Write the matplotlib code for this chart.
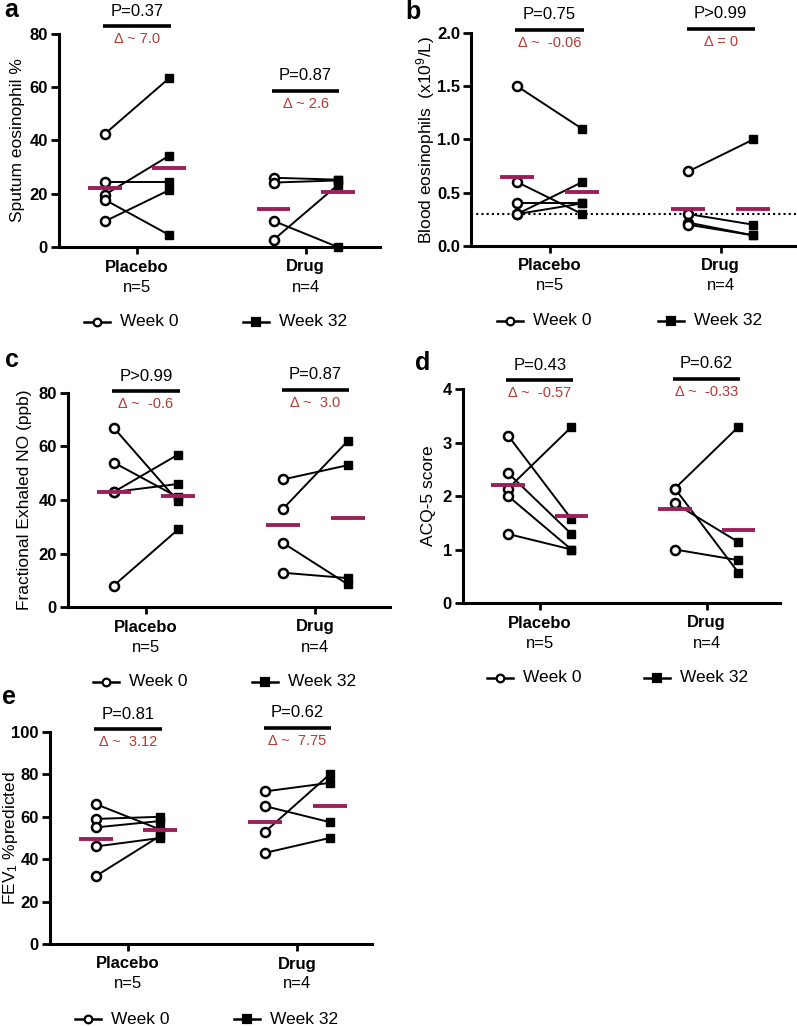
import matplotlib
matplotlib.use("Agg")
import matplotlib.pyplot as plt
from matplotlib.lines import Line2D

plt.rcParams["font.family"] = ["Liberation Sans", "DejaVu Sans"]
plt.rcParams["mathtext.default"] = "regular"

W, H = 797, 1026
RED = "#B23A33"     # texte des deltas
MEAN = "#9C1F5A"    # barres de moyenne

groups = ["Placebo", "Drug"]
group_n = ["n=5", "n=4"]

# ---- a : sputum eosinophil % ----
sput_plac_w0 = [42.4, 24.6, 19.6, 17.8, 9.6]
sput_plac_w32 = [63.3, 24.6, 34.2, 4.6, 21.3]
sput_drug_w0 = [26.0, 24.2, 9.8, 2.7]
sput_drug_w32 = [25.3, 25.0, 0.0, 23.3]
sput_means = [22.3, 29.8, 14.2, 20.6]

# ---- b : blood eosinophils ----
blood_plac_w0 = [1.5, 0.6, 0.4, 0.3, 0.3]
blood_plac_w32 = [1.1, 0.3, 0.4, 0.6, 0.4]
blood_drug_w0 = [0.7, 0.3, 0.22, 0.2]
blood_drug_w32 = [1.0, 0.2, 0.1, 0.1]
blood_means = [0.65, 0.51, 0.35, 0.35]
blood_cutoff = 0.3

# ---- c : FeNO ----
feno_plac_w0 = [67, 54, 43, 43, 8]
feno_plac_w32 = [39.5, 41, 57, 46, 29]
feno_drug_w0 = [47.7, 36.8, 23.9, 12.8]
feno_drug_w32 = [53, 62, 8.5, 10.8]
feno_means = [43, 41.5, 30.5, 33.4]

# ---- d : ACQ-5 ----
acq_plac_w0 = [3.13, 2.43, 2.14, 2.0, 1.29]
acq_plac_w32 = [1.57, 1.29, 3.29, 1.0, 1.0]
acq_drug_w0 = [2.14, 2.14, 1.86, 1.0]
acq_drug_w32 = [3.29, 0.57, 1.14, 0.8]
acq_means = [2.2, 1.63, 1.76, 1.37]

# ---- e : FEV1 %predicted ----
fev_plac_w0 = [66, 59, 55, 46, 32]
fev_plac_w32 = [54, 60, 58, 50, 51]
fev_drug_w0 = [72, 65, 53, 43]
fev_drug_w32 = [76, 57.5, 80, 50]
fev_means = [49.6, 54, 57.7, 65.2]

# stats affichées au-dessus de chaque groupe
p_labels = {
    "a": ["P=0.37", "P=0.87"], "b": ["P=0.75", "P>0.99"], "c": ["P>0.99", "P=0.87"],
    "d": ["P=0.43", "P=0.62"], "e": ["P=0.81", "P=0.62"],
}
d_labels = {
    "a": ["Δ ~ 7.0", "Δ ~ 2.6"], "b": ["Δ ~  -0.06", "Δ = 0"], "c": ["Δ ~  -0.6", "Δ ~  3.0"],
    "d": ["Δ ~  -0.57", "Δ ~  -0.33"], "e": ["Δ ~  3.12", "Δ ~  7.75"],
}
p_bar_y = {"a": [83, 58.7], "b": [2.03, 2.04], "c": [80.7, 81.3], "d": [4.16, 4.19], "e": [101.3, 101.9]}

fig = plt.figure(figsize=(W / 100, H / 100), dpi=100)
fig.patch.set_facecolor("white")

OFF = 0.19   # décalage semaine 0 / semaine 32 autour du centre du groupe


def panel(key, box, ylim, yticks, fmt, ylabel, ylab_xy, letter_xy, data, means):
    l, r, t, b = box
    ax = fig.add_axes([l / W, 1 - b / H, (r - l) / W, (b - t) / H])
    ax.set_xlim(-0.46, 1.44)
    ax.set_ylim(*ylim)
    for s in ["top", "right"]:
        ax.spines[s].set_visible(False)
    for s in ["left", "bottom"]:
        ax.spines[s].set_linewidth(2.2)
    ax.set_yticks(yticks)
    ax.set_yticklabels([fmt.format(v) for v in yticks], fontweight="bold")
    ax.set_xticks([0, 1])
    ax.set_xticklabels([])
    ax.tick_params(axis="y", length=6, width=2, labelsize=12, pad=2)
    ax.tick_params(axis="x", length=5, width=2)

    for gi, (w0, w32) in enumerate(data):
        x0, x1 = gi - OFF, gi + OFF
        for a, c in zip(w0, w32):
            ax.plot([x0, x1], [a, c], color="black", lw=1.4, zorder=2, clip_on=False)
        ax.plot([x0] * len(w0), w0, "o", ms=6.5, mfc="white", mec="black", mew=1.8,
                zorder=3, clip_on=False)
        ax.plot([x1] * len(w32), w32, "s", ms=6, color="black", zorder=3, clip_on=False)
        ax.plot([x0 - 0.1, x0 + 0.1], [means[2 * gi]] * 2, color=MEAN, lw=2.8, zorder=4,
                solid_capstyle="butt", clip_on=False)
        ax.plot([x1 - 0.1, x1 + 0.1], [means[2 * gi + 1]] * 2, color=MEAN, lw=2.8, zorder=4,
                solid_capstyle="butt", clip_on=False)

        yb = p_bar_y[key][gi]
        ax.plot([gi - 0.2, gi + 0.2], [yb, yb], color="black", lw=2.6, clip_on=False,
                solid_capstyle="butt")
        ax.annotate(p_labels[key][gi], (gi, yb), xytext=(0, 15), textcoords="offset pixels",
                    ha="center", va="center", fontsize=12, annotation_clip=False)
        ax.annotate(d_labels[key][gi], (gi, yb), xytext=(0, -13), textcoords="offset pixels",
                    ha="center", va="center", fontsize=10.5, color=RED, annotation_clip=False)

        ax.annotate(groups[gi], (gi, 0), xycoords=("data", "axes fraction"), xytext=(0, -20),
                    textcoords="offset pixels", ha="center", va="center", fontsize=12,
                    fontweight="bold", annotation_clip=False)
        ax.annotate(group_n[gi], (gi, 0), xycoords=("data", "axes fraction"), xytext=(0, -40),
                    textcoords="offset pixels", ha="center", va="center", fontsize=12,
                    annotation_clip=False)

    # légende dessinée à la main sous l'axe
    for gi, (lab, mk, dx) in enumerate([("Week 0", "o", -40), ("Week 32", "s", -50)]):
        px, py = ax.transData.transform((gi, ylim[0]))
        cx, cy = px + dx, py - 75
        fig.add_artist(Line2D([(cx - 13) / W, (cx + 13) / W], [cy / H, cy / H], color="black",
                              lw=1.8, transform=fig.transFigure))
        fig.add_artist(Line2D([cx / W], [cy / H], marker=mk, ms=5.5,
                              mfc="white" if mk == "o" else "black", mec="black", mew=1.6,
                              transform=fig.transFigure))
        fig.text((cx + 23) / W, cy / H, lab, ha="left", va="center", fontsize=12.5)

    fig.text(ylab_xy[0] / W, 1 - ylab_xy[1] / H, ylabel, rotation=90, ha="center",
             va="center", fontsize=12.5)
    fig.text(letter_xy[0] / W, 1 - letter_xy[1] / H, key, ha="center", va="center",
             fontsize=18, fontweight="bold")
    return ax


panel("a", (59, 380, 34, 247), (0, 80), [0, 20, 40, 60, 80], "{:g}", "Sputum eosinophil %",
      (18, 140), (11, 10), [(sput_plac_w0, sput_plac_w32), (sput_drug_w0, sput_drug_w32)],
      sput_means)

axb = panel("b", (471, 796, 33, 246), (0, 2.0), [0, 0.5, 1.0, 1.5, 2.0], "{:.1f}",
            r"Blood eosinophils  (x10$^{9}$/L)", (426, 140), (413, 12),
            [(blood_plac_w0, blood_plac_w32), (blood_drug_w0, blood_drug_w32)], blood_means)
axb.axhline(blood_cutoff, color="black", ls=(0, (1, 1.5)), lw=1.5, zorder=1)

panel("c", (68, 390, 393, 607), (0, 80), [0, 20, 40, 60, 80], "{:g}",
      "Fractional Exhaled NO (ppb)", (25, 500), (12, 360),
      [(feno_plac_w0, feno_plac_w32), (feno_drug_w0, feno_drug_w32)], feno_means)

panel("d", (463, 780, 389, 603), (0, 4), [0, 1, 2, 3, 4], "{:g}", "ACQ-5 score",
      (428, 496), (423, 363), [(acq_plac_w0, acq_plac_w32), (acq_drug_w0, acq_drug_w32)],
      acq_means)

panel("e", (50, 372, 732, 944), (0, 100), [0, 20, 40, 60, 80, 100], "{:g}",
      r"FEV$_{1}$ %predicted", (11, 838), (9, 697),
      [(fev_plac_w0, fev_plac_w32), (fev_drug_w0, fev_drug_w32)], fev_means)

fig.savefig("out.png", dpi=100, facecolor="white")
